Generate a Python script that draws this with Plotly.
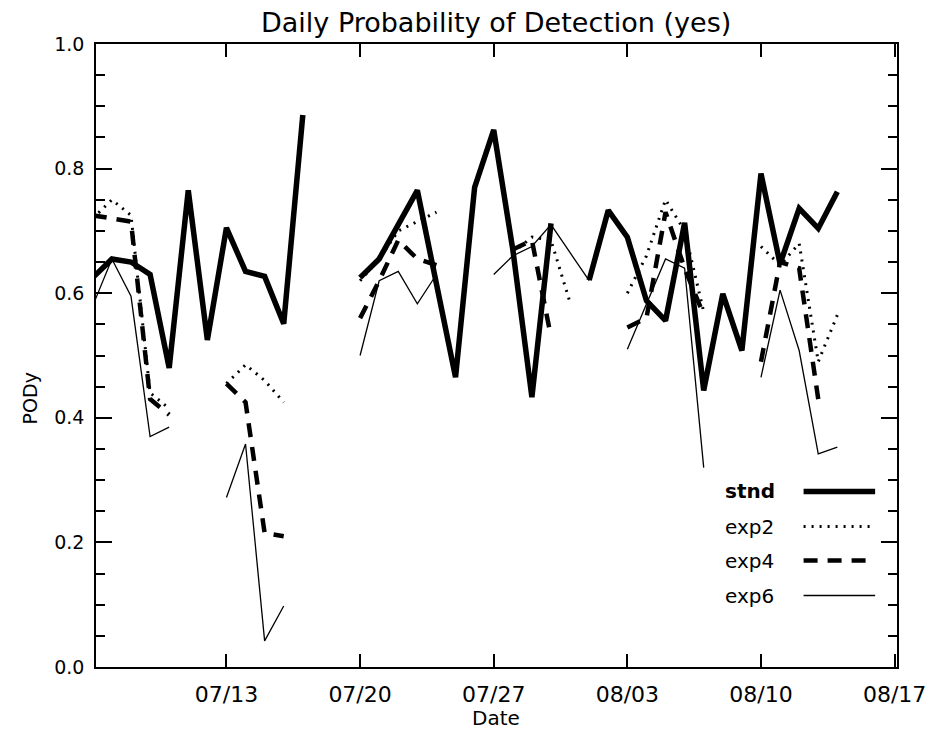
import plotly.graph_objects as go

dates = [
    "2000-07-06", "2000-07-07", "2000-07-08", "2000-07-09", "2000-07-10",
    "2000-07-11", "2000-07-12", "2000-07-13", "2000-07-14", "2000-07-15",
    "2000-07-16", "2000-07-17", "2000-07-18", "2000-07-19", "2000-07-20",
    "2000-07-21", "2000-07-22", "2000-07-23", "2000-07-24", "2000-07-25",
    "2000-07-26", "2000-07-27", "2000-07-28", "2000-07-29", "2000-07-30",
    "2000-07-31", "2000-08-01", "2000-08-02", "2000-08-03", "2000-08-04",
    "2000-08-05", "2000-08-06", "2000-08-07", "2000-08-08", "2000-08-09",
    "2000-08-10", "2000-08-11", "2000-08-12", "2000-08-13", "2000-08-14",
]

stnd = [0.625, 0.655, 0.65, 0.63, 0.48, 0.765, 0.525, 0.705, 0.635, 0.627,
        0.551, 0.886, None, None, 0.625, 0.655, 0.71, 0.765, 0.615, 0.465,
        0.77, 0.862, 0.67, 0.433, 0.712, None, 0.621, 0.733, 0.69, 0.588,
        0.556, 0.713, 0.444, 0.599, 0.508, 0.792, 0.647, 0.736, 0.704, 0.763]

exp2 = [0.72, 0.75, 0.725, 0.44, 0.415, None, None, 0.455, 0.485, 0.46,
        0.425, None, None, None, 0.62, 0.655, 0.70, 0.715, 0.73, None,
        None, None, 0.665, 0.69, 0.685, 0.585, None, None, 0.60, 0.66,
        0.75, 0.70, 0.57, None, None, 0.675, 0.645, 0.68, 0.49, 0.565]

exp4 = [0.725, 0.72, 0.715, 0.43, 0.405, None, None, 0.455, 0.425, 0.215,
        0.21, None, None, None, 0.56, 0.62, 0.685, 0.655, 0.645, None,
        None, None, 0.67, 0.685, 0.53, None, None, None, 0.545, 0.56,
        0.73, 0.64, 0.565, None, None, 0.49, 0.65, 0.64, 0.43, None]

exp6 = [0.58, 0.655, 0.595, 0.37, 0.385, None, None, 0.272, 0.358, 0.042,
        0.098, None, None, None, 0.50, 0.62, 0.635, 0.583, 0.63, None,
        None, 0.63, 0.66, 0.675, 0.71, 0.665, 0.62, None, 0.51, 0.583,
        0.655, 0.64, 0.32, None, None, 0.465, 0.605, 0.508, 0.342, 0.353]

series_names = ["stnd", "exp2", "exp4", "exp6"]
series_values = [stnd, exp2, exp4, exp6]

x_tick_vals = ["2000-07-13", "2000-07-20", "2000-07-27", "2000-08-03",
               "2000-08-10", "2000-08-17"]
x_tick_text = ["07/13", "07/20", "07/27", "08/03", "08/10", "08/17"]
y_tick_vals = [0.0, 0.2, 0.4, 0.6, 0.8, 1.0]
y_tick_text = ["0.0", "0.2", "0.4", "0.6", "0.8", "1.0"]

title_text = "Daily Probability of Detection (yes)"
x_title = "Date"
y_title = "PODy"

styles = {
    "stnd": dict(width=5.5, dash="solid"),
    "exp2": dict(width=3, dash="2px,6px"),
    "exp4": dict(width=4.5, dash="14px,10px"),
    "exp6": dict(width=1.3, dash="solid"),
}

FONT = "DejaVu Sans"
# page offset of the figure (browser body margin)
OFF = 8
W, H = 938 - OFF, 731 - OFF
# plot-area edges in window pixels
L, R, T, B = 96, 902, 44, 667

fig = go.Figure()
for name, vals in zip(series_names, series_values):
    fig.add_trace(go.Scatter(
        x=dates, y=vals, mode="lines", name=name,
        line=dict(color="black", **styles[name]),
        connectgaps=False, showlegend=False,
    ))

def px_x(p):
    return (p - L) / (R - L)

def px_y(p):
    return (B - p) / (B - T)

# legend drawn as text followed by line sample (IDL style)
leg_y = [491.5, 526.5, 560.5, 595.5]
shapes = []
annotations = []
for name, yy in zip(series_names, leg_y):
    st = styles[name]
    shapes.append(dict(type="line", xref="paper", yref="paper",
                       x0=px_x(808), x1=px_x(880), y0=px_y(yy), y1=px_y(yy),
                       line=dict(color="black", width=st["width"], dash=st["dash"])))
    annotations.append(dict(xref="paper", yref="paper", x=px_x(727), y=px_y(yy),
                            text=("<b>%s</b>" % name) if name == "stnd" else name,
                            showarrow=False, xanchor="left", yanchor="middle",
                            font=dict(family=FONT, size=20, color="black")))

annotations.append(dict(xref="paper", yref="paper", x=px_x(30), y=px_y(398),
                        text=y_title, textangle=-90, showarrow=False,
                        xanchor="center", yanchor="middle",
                        font=dict(family=FONT, size=19, color="black")))
annotations.append(dict(xref="paper", yref="paper", x=px_x(498), y=px_y(718),
                        text=x_title, showarrow=False,
                        xanchor="center", yanchor="middle",
                        font=dict(family=FONT, size=20, color="black")))
annotations.append(dict(xref="paper", yref="paper", x=px_x(498), y=px_y(22),
                        text=title_text, showarrow=False,
                        xanchor="center", yanchor="middle",
                        font=dict(family=FONT, size=27, color="black")))

fig.update_layout(
    width=W, height=H,
    margin=dict(l=L - OFF, r=938 - R, t=T - OFF, b=731 - B, pad=0),
    paper_bgcolor="white", plot_bgcolor="white",
    font=dict(family=FONT, size=20, color="black"),
    shapes=shapes, annotations=annotations,
    showlegend=False,
)
fig.update_xaxes(
    type="date", range=["2000-07-06 04:00", "2000-08-17 03:00"],
    tickmode="array", tickvals=x_tick_vals, ticktext=x_tick_text,
    ticks="inside", ticklen=13, tickwidth=1.5, tickcolor="black",
    showline=True, linecolor="black", linewidth=1.5, mirror="ticks",
    showgrid=False, zeroline=False,
    tickfont=dict(family=FONT, size=22, color="black"),
    ticklabelstandoff=7,
)
fig.update_yaxes(
    range=[0, 1], tickmode="array", tickvals=y_tick_vals, ticktext=y_tick_text,
    ticks="inside", ticklen=16, tickwidth=1.5, tickcolor="black",
    minor=dict(dtick=0.05, ticks="inside", ticklen=9, tickwidth=1.5, tickcolor="black"),
    showline=True, linecolor="black", linewidth=1.5, mirror="ticks",
    showgrid=False, zeroline=False,
    tickfont=dict(family=FONT, size=19, color="black"),
    ticklabelstandoff=6,
)

fig.write_html("out.html")
